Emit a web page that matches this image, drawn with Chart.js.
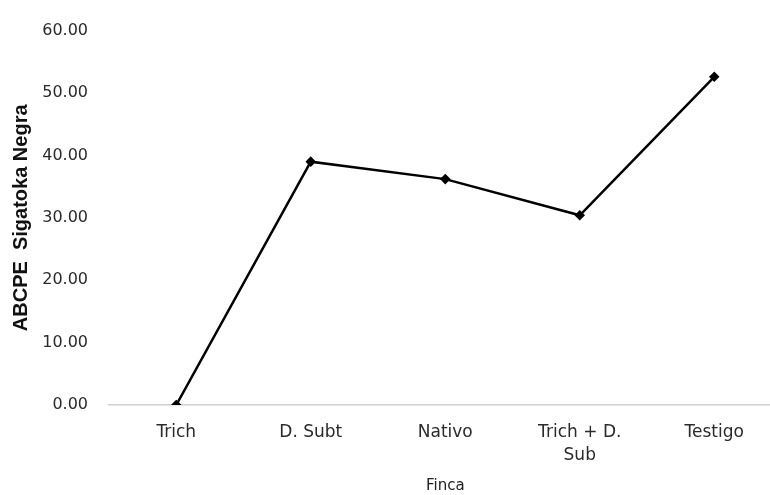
<!DOCTYPE html>
<html>
<head>
<meta charset="utf-8">
<script src="https://cdn.jsdelivr.net/npm/chart.js@4.4.1/dist/chart.umd.min.js"></script>
<style>
  html, body { margin: 0; padding: 0; background: #fff; overflow: hidden; }
  #wrap { width: 788px; height: 495px; position: relative; }
</style>
</head>
<body>
<div id="wrap"><canvas id="canvas1"></canvas></div>
<script>
// categorias y valores
var categorias = ['Trich', 'D. Subt', 'Nativo', ['Trich + D.', 'Sub'], 'Testigo'];
var valores = [0.00, 39.0, 36.2, 30.4, 52.6];
var ticksY = [0, 10, 20, 30, 40, 50, 60];

const ctx = document.getElementById("canvas1").getContext("2d");
var config = {
    type: 'line',
    data: {
        labels: categorias,
        datasets: [{
            label: 'ABCPE',
            data: valores,
            borderColor: '#000000',
            backgroundColor: '#000000',
            borderWidth: 2.5,
            pointStyle: 'rectRot',
            pointRadius: 3.5,
            pointBackgroundColor: '#000000',
            tension: 0,
            fill: false
        }]
    },
    options: {
        responsive: true,
        maintainAspectRatio: false,
        animation: false,
        layout: { padding: { top: 19, right: 0, bottom: 0, left: 0 } },
        plugins: {
            legend: { display: false },
            tooltip: { enabled: false }
        },
        scales: {
            x: {
                offset: true,
                afterFit: function (scale) { scale.height = 90; },
                grid: { display: false, drawTicks: false },
                border: { display: true, color: '#d0d0d0', width: 1.5 },
                ticks: {
                    color: '#2a2a2a',
                    padding: 17,
                    maxRotation: 0,
                    font: { family: 'DejaVu Sans', size: 17, lineHeight: 1.3 }
                },
                title: {
                    display: true,
                    text: 'Finca',
                    color: '#222',
                    padding: { top: 0, bottom: 0 },
                    font: { family: 'DejaVu Sans', size: 15 }
                }
            },
            y: {
                min: 0,
                max: 60,
                afterBuildTicks: function (axis) {
                    axis.ticks = ticksY.map(function (v) { return { value: v }; });
                },
                afterFit: function (scale) { scale.width = 109; },
                grid: { display: false, drawTicks: false },
                border: { display: false },
                ticks: {
                    color: '#2a2a2a',
                    padding: 21,
                    font: { family: 'DejaVu Sans', size: 16 },
                    callback: function (v) { return Number(v).toFixed(2); }
                },
                title: {
                    display: true,
                    text: 'ABCPE  Sigatoka Negra',
                    color: '#111',
                    padding: { top: 9, bottom: 0 },
                    font: { family: 'Liberation Sans', size: 20, weight: 'bold' }
                }
            }
        }
    }
};
var chart = new Chart(ctx, config);
</script>
</body>
</html>
